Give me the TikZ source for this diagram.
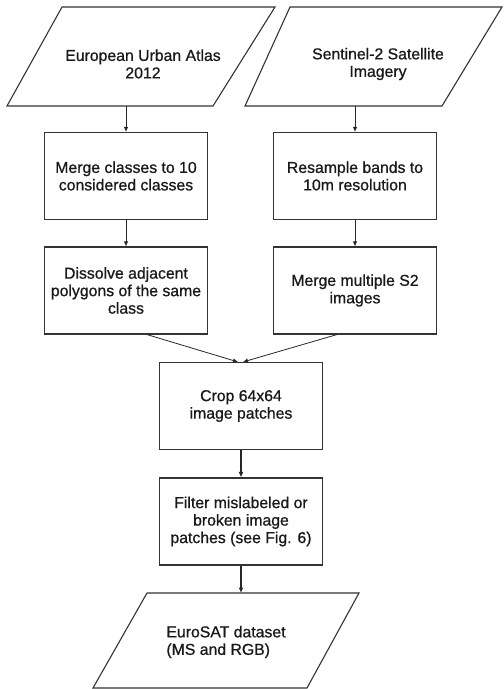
\documentclass[tikz,border=0pt]{standalone}
\usepackage{fontspec}
\setmainfont{Liberation Sans}
\newfontfamily\boxfont[FakeBold=0.8]{Liberation Sans}
\usetikzlibrary{arrows.meta}
\begin{document}
\begin{tikzpicture}[x=1pt,y=-1pt]
\tikzset{
  frame/.style={draw=black!80, line width=1.1pt, line join=miter},
  txt/.style={align=center, inner sep=0pt, text=black!90, font=\boxfont\fontsize{15.8}{17.5}\selectfont},
  proc/.style={frame, txt, minimum width=163pt, minimum height=87pt},
  arr/.style={draw=black!85, line width=0.8pt, -{Latex[length=5pt,width=4.5pt]}},
  arrb/.style={draw=black!85, line width=1.1pt, -{Latex[length=5.5pt,width=5pt]}},
}
\useasboundingbox (0,0) rectangle (504,689);
% input parallelograms
\draw[frame] (62,7) -- (275,7) -- (213,106) -- (7,106) -- cycle;
\node[txt] (ua) at (143,64) {European Urban Atlas\\2012};
\coordinate (uab) at (126,106);
\draw[frame] (290,7) -- (502,7) -- (442,106) -- (245,106) -- cycle;
\node[txt] (s2) at (378,64) {Sentinel-2 Satellite\\Imagery};
\coordinate (s2b) at (355,106);
% process boxes
\node[proc] (mc) at (126,176) {Merge classes to 10\\considered classes};
\node[proc] (rb) at (355,176) {Resample bands to\\10m resolution};
\node[proc] (dp) at (126,290.5) {Dissolve adjacent\\polygons of the same\\class};
\node[proc] (ms) at (355,290.5) {Merge multiple S2\\images};
\node[proc] (cp) at (241,406) {Crop 64x64\\image patches};
\node[proc] (fm) at (241,521.5) {Filter mislabeled or\\broken image\\patches (see Fig. 6)};
% output parallelogram
\draw[frame] (147,593) -- (359,593) -- (307,688) -- (93,688) -- cycle;
\coordinate (eut) at (241,593);
\node[txt, align=left] (eu) at (226,642) {EuroSAT dataset\\(MS and RGB)};
% connectors
\draw[arr] (uab) -- (mc);
\draw[arr] (s2b) -- (rb);
\draw[arr] (mc) -- (dp);
\draw[arr] (rb) -- (ms);
\draw[arr] ([xshift=21pt]dp.south) -- ([xshift=-3pt]cp.north);
\draw[arr] ([xshift=-18pt]ms.south) -- ([xshift=2pt]cp.north);
\draw[arrb] (cp) -- (fm);
\draw[arrb] (fm) -- (eut);
\end{tikzpicture}
\end{document}
